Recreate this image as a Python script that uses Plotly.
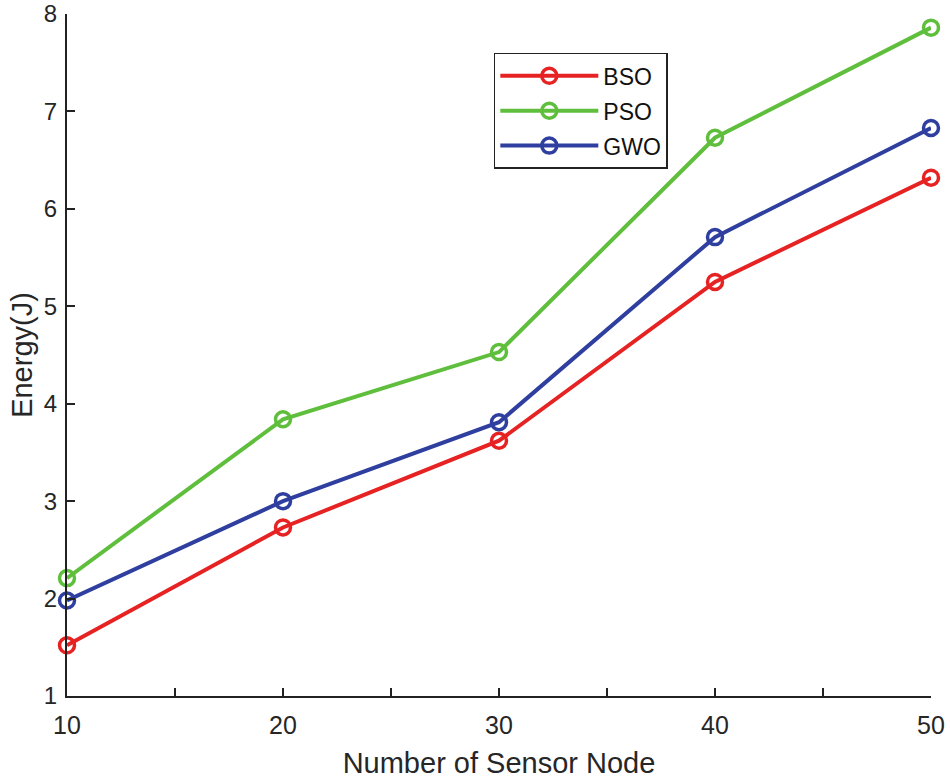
import plotly.graph_objects as go

nodes = [10, 20, 30, 40, 50]
bso = [1.52, 2.73, 3.62, 5.25, 6.32]
pso = [2.21, 3.84, 4.53, 6.73, 7.86]
gwo = [1.98, 3.00, 3.81, 5.71, 6.83]

x_tickvals = [10, 15, 20, 25, 30, 35, 40, 45, 50]
x_ticktext = ["10", "", "20", "", "30", "", "40", "", "50"]
y_tickvals = [1, 2, 3, 4, 5, 6, 7, 8]

series = [("BSO", bso, "#e62222"), ("PSO", pso, "#5fbf3c"), ("GWO", gwo, "#2f3f9f")]

fig = go.Figure()
for name, vals, col in series:
    fig.add_trace(go.Scatter(
        x=nodes, y=vals, name=name, mode="lines+markers",
        legendgroup=name,
        line=dict(color=col, width=4),
        marker=dict(symbol="circle-open", size=15, color=col, line=dict(width=3.5, color=col)),
        cliponaxis=False,
    ))

font_family = "Liberation Sans, Arial, sans-serif"
fig.update_layout(
    width=950, height=779,
    margin=dict(l=67, r=19, t=14, b=83),
    paper_bgcolor="white", plot_bgcolor="white",
    font=dict(family=font_family, color="#262626"),
    showlegend=True,
    legend=dict(
        x=0.494, y=0.943, xanchor="left", yanchor="top",
        bordercolor="#222222", borderwidth=1.5, bgcolor="white",
        font=dict(size=23, color="#111111"),
        itemwidth=98, tracegroupgap=2,
    ),
    xaxis=dict(
        range=[10, 50.0001], tickvals=x_tickvals, ticktext=x_ticktext,
        automargin=False, ticklabeloverflow="allow",
        showline=True, linecolor="#222222", linewidth=2,
        ticks="inside", ticklen=8, tickwidth=2, tickcolor="#222222",
        showgrid=False, zeroline=False,
        tickfont=dict(size=25, color="#262626"),
        ticklabelstandoff=6,
        title=dict(text="Number of Sensor Node", font=dict(size=29, color="#262626"), standoff=16),
    ),
    yaxis=dict(
        range=[0.9999, 8.0001], tickvals=y_tickvals,
        automargin=False, ticklabeloverflow="allow",
        showline=True, linecolor="#222222", linewidth=2,
        ticks="inside", ticklen=8, tickwidth=2, tickcolor="#222222",
        showgrid=False, zeroline=False,
        tickfont=dict(size=24, color="#262626"),
        ticklabelstandoff=3,
        title=dict(text="Energy(J)", font=dict(size=29, color="#262626"), standoff=3),
    ),
)

fig.write_html(
    "out.html",
    config={"displayModeBar": False},
    post_script="document.body.style.margin='0';document.body.style.overflow='hidden';",
)
